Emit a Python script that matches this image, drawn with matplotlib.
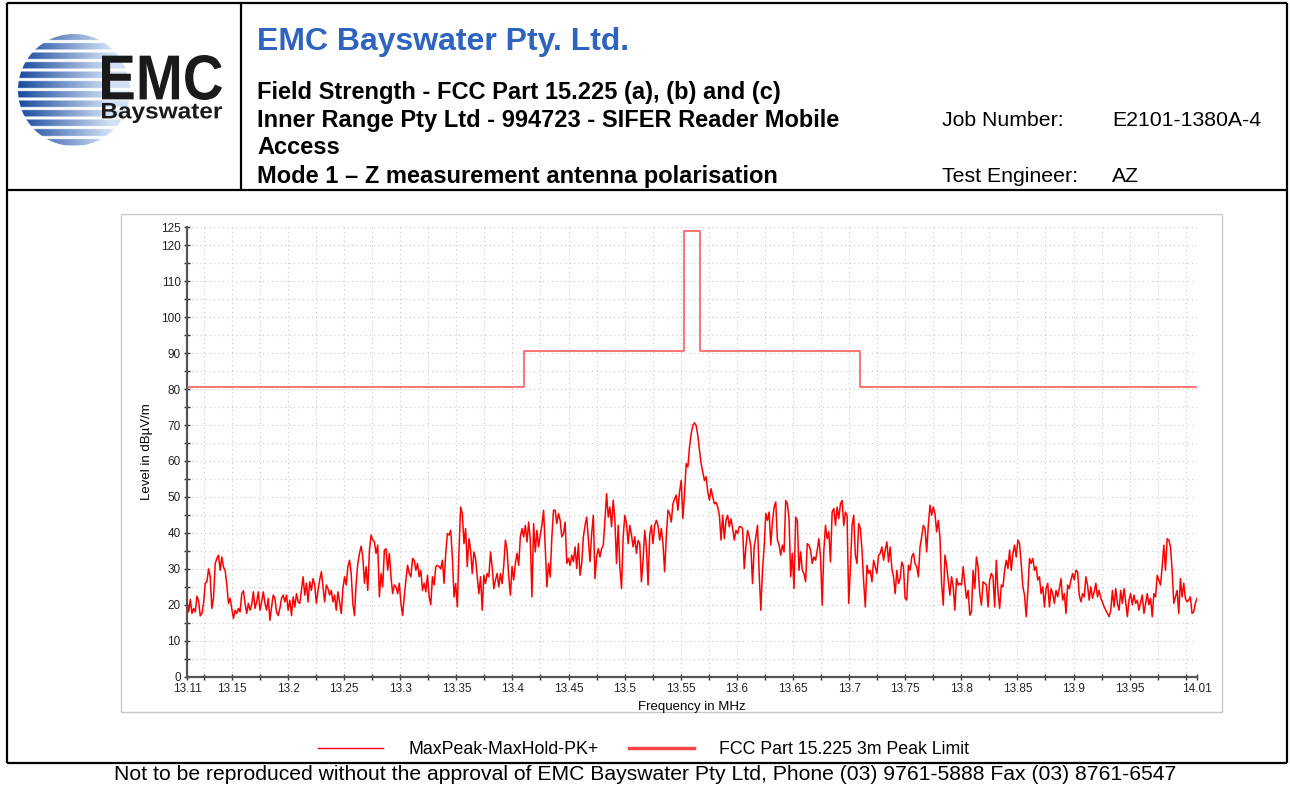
import numpy as np
import matplotlib
matplotlib.use('Agg')
import matplotlib.pyplot as plt
from matplotlib.patches import Rectangle, Circle, PathPatch
from matplotlib.lines import Line2D
from matplotlib.textpath import TextPath
from matplotlib.font_manager import FontProperties
from matplotlib.transforms import Affine2D
from matplotlib.ticker import FixedLocator, FixedFormatter

plt.rcParams['font.family'] = ['Liberation Sans', 'DejaVu Sans']

trace_a = [20.4, 18, 21.5, 17.6, 19, 18, 22.4, 21, 16.9, 17.6, 20.4, 26, 26.4, 30, 27.8, 19, 22, 31.5,
           32.9, 33.8, 29.6, 33.3, 30.5, 29.6, 25.5, 20.4, 21.8, 19, 16.2, 18.5, 17.6, 19, 18, 23.1, 23.9,
           20.4, 17.6, 20.4, 18.5, 20, 23.6, 19, 20.8, 23.6, 18.5, 20.8, 23.6, 20.4, 18.5, 21.8, 15.7, 19.4,
           22.7, 21.8, 18, 17, 19, 21.8, 22.7, 20.8, 22.7, 18.5, 21.3, 17, 22.2, 19.4, 23.1, 20.8, 20.4, 24,
           27.8, 22.7, 26, 20.8, 26.4, 24, 27.3, 25.5, 20.4, 24, 26.9, 29.2, 25, 20.8, 25.5, 24.5, 22.7, 24,
           20.8, 22.7, 18.5, 23.6, 20.8, 17.6, 24.5, 27.8, 25.5, 30.6, 32.4, 28.7, 20.4, 17, 26, 31.5, 34.3,
           36.3, 33.3, 26, 30.6, 24, 35.2, 39.4, 38, 37.5, 34.3, 36.6, 22.2, 28.7, 25, 35.2, 35.6, 29.6, 34.3,
           27.8, 23.1, 25.5, 25, 23.1, 26, 20.4, 17, 22.2, 26.9, 31, 28.7, 27.8, 32.9, 32.4, 29.6, 31.5, 27.8,
           29.6, 24, 26, 23.6, 28.2, 22.2, 20, 27.8, 25.5, 30.6, 31, 30.6, 30, 32.4, 26, 34.3, 39.8]
trace_b = [39.4, 40.7, 33.3, 22.2, 25.9, 19.4, 35.2, 47.2, 45.4, 37, 41.2, 30.6, 38.4, 35.2, 28.7, 34.7,
           32.9, 27.8, 23.1, 27.8, 18.5, 28.2, 25.9, 28.7, 27.8, 34.7, 30.6, 24.5, 26.9, 28.7, 25, 28.7, 25.9,
           31, 38, 35.2, 27.8, 22.7, 30.6, 26.9, 31.5, 34.3, 31, 38.9, 41.2, 38.9, 42.1, 37.5, 43, 38, 22.2,
           42.6, 34.7, 40.7, 36.1, 39.4, 42.1, 46.3, 36.1, 25, 31.5, 27.8, 38.9, 46.3, 46.3, 42.6, 45.4, 43.5,
           38.9, 39.8, 43, 31.5, 32.9, 31, 33.8, 32, 36.1, 30.1, 37, 28.2, 31.5, 38.9, 42.1, 44.4, 38, 32,
           39.8, 44.9, 27.3, 33.3, 35.6, 33.3, 35.6, 36.6, 43.5, 50.9, 44.4, 47.2, 41.7, 49.1, 43.5, 31.5,
           42.1, 30.6, 24.5, 38.9, 44.9, 42.6, 37, 42.1, 39.4, 36.1, 38.9, 34.3, 37.9, 37, 26.4, 32.4, 40.7,
           36.1, 25.5, 39.4, 42.1, 37, 42.1, 43.5, 42.1, 38, 41.2, 37, 29.2, 38.9, 46.3, 45.4, 43, 48.1, 49.5,
           50.5, 46.3, 51.4, 54.6, 44, 50.9, 59.3, 58.3, 63.9, 67.6, 69.9, 70.6, 69.9, 67.1, 63, 59.3]
trace_c = [57, 54.6, 55.6, 51.4, 49.1, 52.3, 50, 48.1, 48.5, 47.2, 44.9, 38, 44.9, 38.4, 43.5, 44.9, 41.7,
           43.9, 41.2, 38, 40.7, 39.8, 41.7, 41.7, 41.2, 30.1, 36.1, 40.7, 38.9, 36.1, 25.9, 36.1, 38.9, 42.1,
           28.7, 18.5, 29.6, 36.1, 45.4, 43.5, 45.8, 36.6, 43, 47.2, 48.6, 38, 36.6, 33.8, 36.6, 34.7, 49,
           48.1, 44, 27.8, 34.3, 24.5, 44.4, 43.5, 29.6, 34.7, 29.6, 28.7, 26.4, 37, 36.6, 35.2, 31.5, 33.3,
           32.4, 35.2, 38.4, 33.3, 19.9, 35.2, 42.1, 38.4, 40.3, 31.9, 45.8, 46.8, 42.1, 47.2, 44, 48.1, 49,
           42.1, 45.8, 44.9, 20.4, 30.1, 42.1, 44.9, 33.8, 31.5, 42.6, 41.2, 35.2, 26.4, 19.4, 31, 28.7, 29.6,
           26.4, 32.4, 30.6, 28.7, 33.8, 34.3, 36.1, 32.4, 35.2, 37.5, 31.9, 36.1, 30.1, 27.8, 23.1, 29.6,
           25.9, 27.3, 31.9, 30.6, 21.8, 21.3, 31, 29.6, 33.3, 34.3, 31.5, 30.6, 27.8, 36.1, 38.9, 42.1, 41.2,
           34.7, 42.1, 47.7, 44.9, 47.2, 45.4, 40.3, 43.5, 38.9, 25.9, 19.9, 33.8, 31, 26.9, 22.7, 27.8, 25, 18.5]
trace_d = [27.3, 25.5, 26, 25.5, 30.6, 26, 21.8, 24, 17.1, 18, 29.6, 24.5, 33.3, 30.6, 23.1, 19.9, 26.4, 26,
           25.5, 19.4, 26.9, 28.7, 27.8, 19.4, 32.4, 23.6, 19, 25.5, 25, 29.6, 32.4, 30.1, 35.2, 29.6, 34.3,
           36.6, 33.3, 38, 37, 31.5, 25, 22.7, 16.7, 23.6, 32.9, 31.5, 32.9, 29.6, 30.6, 26.9, 27.8, 23.1, 25,
           19.4, 24.5, 26, 19.4, 24.5, 23.1, 20.4, 24, 22.2, 24.5, 27.3, 21.3, 23.1, 17.6, 25.5, 24.5, 26.9,
           28.7, 26.9, 29.6, 29.2, 22.7, 20.8, 23.1, 22.2, 27.8, 25.5, 21.3, 25, 21.8, 23.6, 26, 22.2, 24,
           21.8, 20.8, 19.4, 18.5, 17.6, 16.7, 18.5, 24, 19.4, 24.5, 20.4, 18.5, 24, 20.4, 24.5, 20.8, 16.7,
           21.3, 23.1, 20, 22.7, 20.4, 21.3, 18.5, 20.8, 22.7, 17.6, 20.4, 23.1, 20, 21.8, 16.7, 23.1, 22.2,
           28.2, 26.9, 25.5, 30.6, 36.6, 29.6, 38.4, 38, 36.1, 29.6, 20.4, 22.2, 24, 17.6, 27.3, 22.2, 26,
           21.8, 20.8, 21.3, 22.2, 17.6, 18, 20.4, 21.8]

f_start, f_stop = 13.11, 14.01

# FCC 15.225 3m limit (dBuV/m)
limit_freq = [13.11, 13.41, 13.41, 13.553, 13.553, 13.567, 13.567, 13.71, 13.71, 14.01]
limit_level = [80.5, 80.5, 90.5, 90.5, 124.0, 124.0, 90.5, 90.5, 80.5, 80.5]

x_major = [13.11, 13.15, 13.2, 13.25, 13.3, 13.35, 13.4, 13.45, 13.5, 13.55, 13.6,
           13.65, 13.7, 13.75, 13.8, 13.85, 13.9, 13.95, 14.01]
x_minor = [13.125, 13.175, 13.225, 13.275, 13.325, 13.375, 13.425, 13.475, 13.525, 13.575,
           13.625, 13.675, 13.725, 13.775, 13.825, 13.875, 13.925, 13.975, 14.0]
y_major = [0, 10, 20, 30, 40, 50, 60, 70, 80, 90, 100, 110, 120, 125]
y_minor = [5, 15, 25, 35, 45, 55, 65, 75, 85, 95, 105, 115]

level = np.array(trace_a + trace_b + trace_c + trace_d)
freq = np.linspace(f_start, f_stop, len(level))

W, H = 1290, 785
fig = plt.figure(figsize=(W / 100, H / 100), dpi=100)

# page overlay in pixel coordinates
pg = fig.add_axes([0, 0, 1, 1])
pg.set_xlim(0, W)
pg.set_ylim(H, 0)
pg.axis('off')

def hline(y, x0, x1):
    pg.plot([x0, x1], [y, y], color='black', lw=1.6, solid_capstyle='butt')

def vline(x, y0, y1):
    pg.plot([x, x], [y0, y1], color='black', lw=1.6, solid_capstyle='butt')

hline(3, 7, 1287)
hline(190, 7, 1287)
hline(763, 7, 1287)
vline(7, 3, 763)
vline(1287, 3, 763)
vline(241, 3, 190)

# logo: striped globe
gy, gx = np.mgrid[33:148:0.5, 18:135:0.5]
t = np.clip((gx - 20) / 90.0, 0, 1)
dark = np.array([0.11, 0.30, 0.62])
light = np.array([0.82, 0.88, 0.96])
rgb = dark[None, None, :] * (1 - t[..., None]) + light[None, None, :] * t[..., None]
phase = ((gy - 33) / 9.6) % 1.0
gap = phase > 0.68
rgb[gap] = 1.0
img = pg.imshow(rgb, extent=(18, 135, 148, 33), origin='upper', interpolation='bilinear',
                aspect='auto', zorder=2)
img.set_clip_path(Circle((74, 90), 56, transform=pg.transData))
pg.set_xlim(0, W)
pg.set_ylim(H, 0)

def fit_text(s, x0, x1, ytop, ybot, weight='bold', color='black'):
    tp = TextPath((0, 0), s, size=1, prop=FontProperties(family='Liberation Sans', weight=weight))
    bb = tp.get_extents()
    tr = (Affine2D().translate(-bb.x0, -bb.y0)
          .scale((x1 - x0) / bb.width, -(ybot - ytop) / bb.height)
          .translate(x0, ybot))
    pg.add_patch(PathPatch(tr.transform_path(tp), facecolor=color, edgecolor='none', zorder=3))

fit_text('EMC', 102, 222, 55, 100, color='#1a1a1a')
fit_text('Bayswater', 102, 222, 103, 123, color='#1a1a1a')

# header texts
pg.text(257, 42, 'EMC Bayswater Pty. Ltd.', color='#2f63c0', fontsize=23, fontweight='bold', va='center')
hdr = ['Field Strength - FCC Part 15.225 (a), (b) and (c)',
       'Inner Range Pty Ltd - 994723 - SIFER Reader Mobile',
       'Access',
       'Mode 1 \u2013 Z measurement antenna polarisation']
for y, s in zip([92, 120, 147, 177], hdr):
    pg.text(257, y, s, fontsize=17, fontweight='bold', va='center')
pg.text(942, 120, 'Job Number:', fontsize=15.3, va='center')
pg.text(1112, 120, 'E2101-1380A-4', fontsize=15.3, va='center')
pg.text(942, 177, 'Test Engineer:', fontsize=15.3, va='center')
pg.text(1112, 177, 'AZ', fontsize=15.3, va='center')

# chart panel box
pg.add_patch(Rectangle((121, 214), 1101, 498, facecolor='white', edgecolor='#c8c8c8', lw=1, zorder=1))

pg.text(645, 775, 'Not to be reproduced without the approval of EMC Bayswater Pty Ltd, '
        'Phone (03) 9761-5888 Fax (03) 8761-6547', fontsize=15.2, ha='center', va='center')

# chart
ax = fig.add_axes([187 / W, 1 - 676.7 / H, 1010 / W, 449.4 / H])
ax.set_facecolor('none')
ax.plot(freq, level, color='#ff0000', lw=1.1, zorder=3)
ax.plot(limit_freq, limit_level, color='#ff5050', lw=1.1, zorder=3)
ax.set_xlim(f_start, f_stop)
ax.set_ylim(0, 125)

ax.xaxis.set_major_locator(FixedLocator(x_major))
ax.xaxis.set_major_formatter(FixedFormatter(['%g' % v for v in x_major]))
ax.xaxis.set_minor_locator(FixedLocator(x_minor))
ax.yaxis.set_major_locator(FixedLocator(y_major))
ax.yaxis.set_major_formatter(FixedFormatter([str(v) for v in y_major]))
ax.yaxis.set_minor_locator(FixedLocator(y_minor))

for sp in ['top', 'right']:
    ax.spines[sp].set_visible(False)
for sp in ['left', 'bottom']:
    ax.spines[sp].set_color('#555555')
    ax.spines[sp].set_linewidth(1.6)
ax.tick_params(which='both', direction='inout', length=5, width=1, color='#333333',
               labelsize=8.5, labelcolor='#222222', pad=2)
ax.grid(True, which='both', color='#c8c8c8', lw=0.8, linestyle=(0, (1, 3)))
ax.set_axisbelow(True)
ax.set_xlabel('Frequency in MHz', fontsize=9.5, labelpad=4)
ax.set_ylabel('Level in dB\u00b5V/m', fontsize=9.5, labelpad=6)

handles = [Line2D([], [], color='#ff0000', lw=1),
           Line2D([], [], color='#ff4444', lw=2.5)]
fig.legend(handles, ['MaxPeak-MaxHold-PK+', 'FCC Part 15.225 3m Peak Limit'],
           loc='center', bbox_to_anchor=(643.5 / W, 1 - 750 / H), ncol=2, frameon=False,
           fontsize=12.8, handlelength=3.65, handletextpad=1.4, columnspacing=1.7)

fig.savefig('out.png', dpi=100)
